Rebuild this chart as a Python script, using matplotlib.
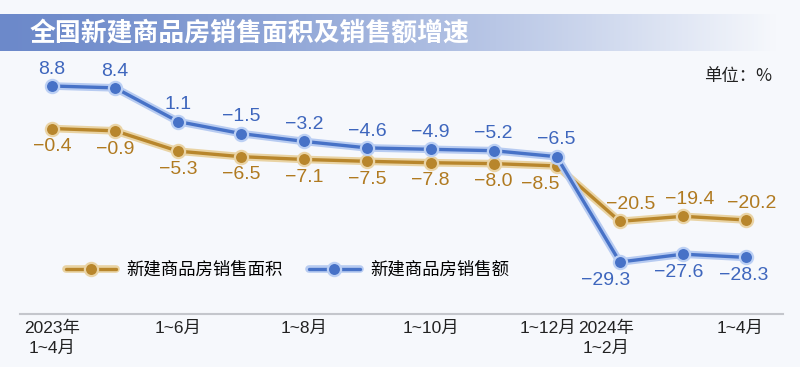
################################################################################
import numpy as np;
import matplotlib;
matplotlib.use('Agg');
import matplotlib.pyplot as plt;
import matplotlib.patheffects as pe;
import matplotlib.transforms as mtrans;
from matplotlib.colors import to_rgb;
from matplotlib.legend_handler import HandlerTuple;
################################################################################
# data
periods = ['2023年\n1~4月','1~5月','1~6月','1~7月','1~8月','1~9月','1~10月',
    '1~11月','1~12月','2024年\n1~2月','1~3月','1~4月'];
area_growth = [-0.4,-0.9,-5.3,-6.5,-7.1,-7.5,-7.8,-8.0,-8.5,-20.5,-19.4,-20.2];
sales_growth = [8.8,8.4,1.1,-1.5,-3.2,-4.6,-4.9,-5.2,-6.5,-29.3,-27.6,-28.3];
shown_ticks = [0,2,4,6,8,9,11];
################################################################################
plt.rcParams['font.family'] = ['Liberation Sans','Noto Sans CJK SC','DejaVu Sans'];
bg = '#f6f8fc';
styles = {
    'area': {'color':'#b8862c','halo':'#e9d3a3','edge':'#ead4a6','text':'#b07a20',
             'label':'新建商品房销售面积'},
    'sales': {'color':'#4772c7','halo':'#b7cbf1','edge':'#bcd0f4','text':'#3e66bd',
              'label':'新建商品房销售额'},
};
################################################################################
fig = plt.figure(figsize=(8,3.67), dpi=100, facecolor=bg);

# title bar with gradient
tax = fig.add_axes([0, 1-51/367, 1, 37/367]);
tax.set_axis_off();
c0 = np.array(to_rgb('#6c89ca')); c1 = np.array(to_rgb(bg));
t = np.clip(np.linspace(0,1,400)/0.97,0,1)**1.3;
grad = (c0[None,:]*(1-t[:,None]) + c1[None,:]*t[:,None])[None,:,:];
tax.imshow(grad, aspect='auto', extent=[0,1,0,1]);
tax.set_xlim(0,1); tax.set_ylim(0,1);
tax.text(30/800, 0.5, '全国新建商品房销售面积及销售额增速', color='white',
    fontsize=18.6, fontweight='bold', family=['Noto Sans CJK SC'],
    va='center', ha='left');

# main axes
ax = fig.add_axes([20/800, 1-314/367, 763/800, 254/367]);
ax.set_facecolor('none');
ax.set_xlim(-0.507, 11.586);
ax.set_ylim(-40.55, 14.43);
for s in ['top','right','left']:
    ax.spines[s].set_visible(False);
ax.spines['bottom'].set_color('#c4c6cc');
ax.spines['bottom'].set_linewidth(1.5);
ax.set_yticks([]);
ax.set_xticks(shown_ticks);
ax.set_xticklabels([periods[i] for i in shown_ticks], fontsize=12.5, color='#222222',
    linespacing=1.35, va='top');
ax.tick_params(axis='x', length=0, pad=5);
# nudge crowded tick labels
tick_shift = {8:-9, 9:-14, 11:-6};
for lab, i in zip(ax.get_xticklabels(), shown_ticks):
    if i in tick_shift:
        lab.set_transform(lab.get_transform() + mtrans.ScaledTranslation(tick_shift[i]/100, 0, fig.dpi_scale_trans));

x = np.arange(len(periods));
handles = []; labels = [];
for key, vals in [('area', area_growth), ('sales', sales_growth)]:
    st = styles[key];
    z = 3 if key=='area' else 5;
    ln, = ax.plot(x, vals, color=st['color'], lw=2.4, solid_capstyle='round',
        solid_joinstyle='round', zorder=z,
        path_effects=[pe.Stroke(linewidth=5.5, foreground=st['halo']), pe.Normal()]);
    mk, = ax.plot(x, vals, ls='none', marker='o', markersize=9.5,
        markerfacecolor=st['color'], markeredgecolor=st['edge'], markeredgewidth=1.6,
        zorder=z+0.5);
    handles.append((ln, mk)); labels.append(st['label']);

# value labels
for i, v in enumerate(area_growth):
    above = i >= 9;
    dx = {8:-12, 9:8, 10:5, 11:4}.get(i, 0);
    ax.annotate(f'{v:.1f}'.replace('-','\u2212'), (i, v), xytext=(dx, 6 if above else -7),
        textcoords='offset points', ha='center', va='bottom' if above else 'top',
        fontsize=14, color=styles['area']['text']);
for i, v in enumerate(sales_growth):
    above = i < 9;
    dx = {9:-10, 10:-3, 11:-2}.get(i, 0);
    ax.annotate(f'{v:.1f}'.replace('-','\u2212'), (i, v), xytext=(dx, 6 if above else -7),
        textcoords='offset points', ha='center', va='bottom' if above else 'top',
        fontsize=14, color=styles['sales']['text']);

# legend
fig.legend(handles, labels, loc='center left', handler_map={tuple: HandlerTuple(ndivide=1)},
    bbox_to_anchor=(66/800, 1-270/367), ncol=2, frameon=False,
    handlelength=2.9, handletextpad=0.6, columnspacing=1.5, borderpad=0,
    borderaxespad=0, prop={'family':['Noto Sans CJK SC'], 'size':12.5});

fig.text(772/800, 1-76/367, '单位：%', ha='right', va='center', fontsize=12.5,
    color='#222222', family=['Noto Sans CJK SC']);

fig.savefig('out.png', dpi=100, facecolor=bg);
